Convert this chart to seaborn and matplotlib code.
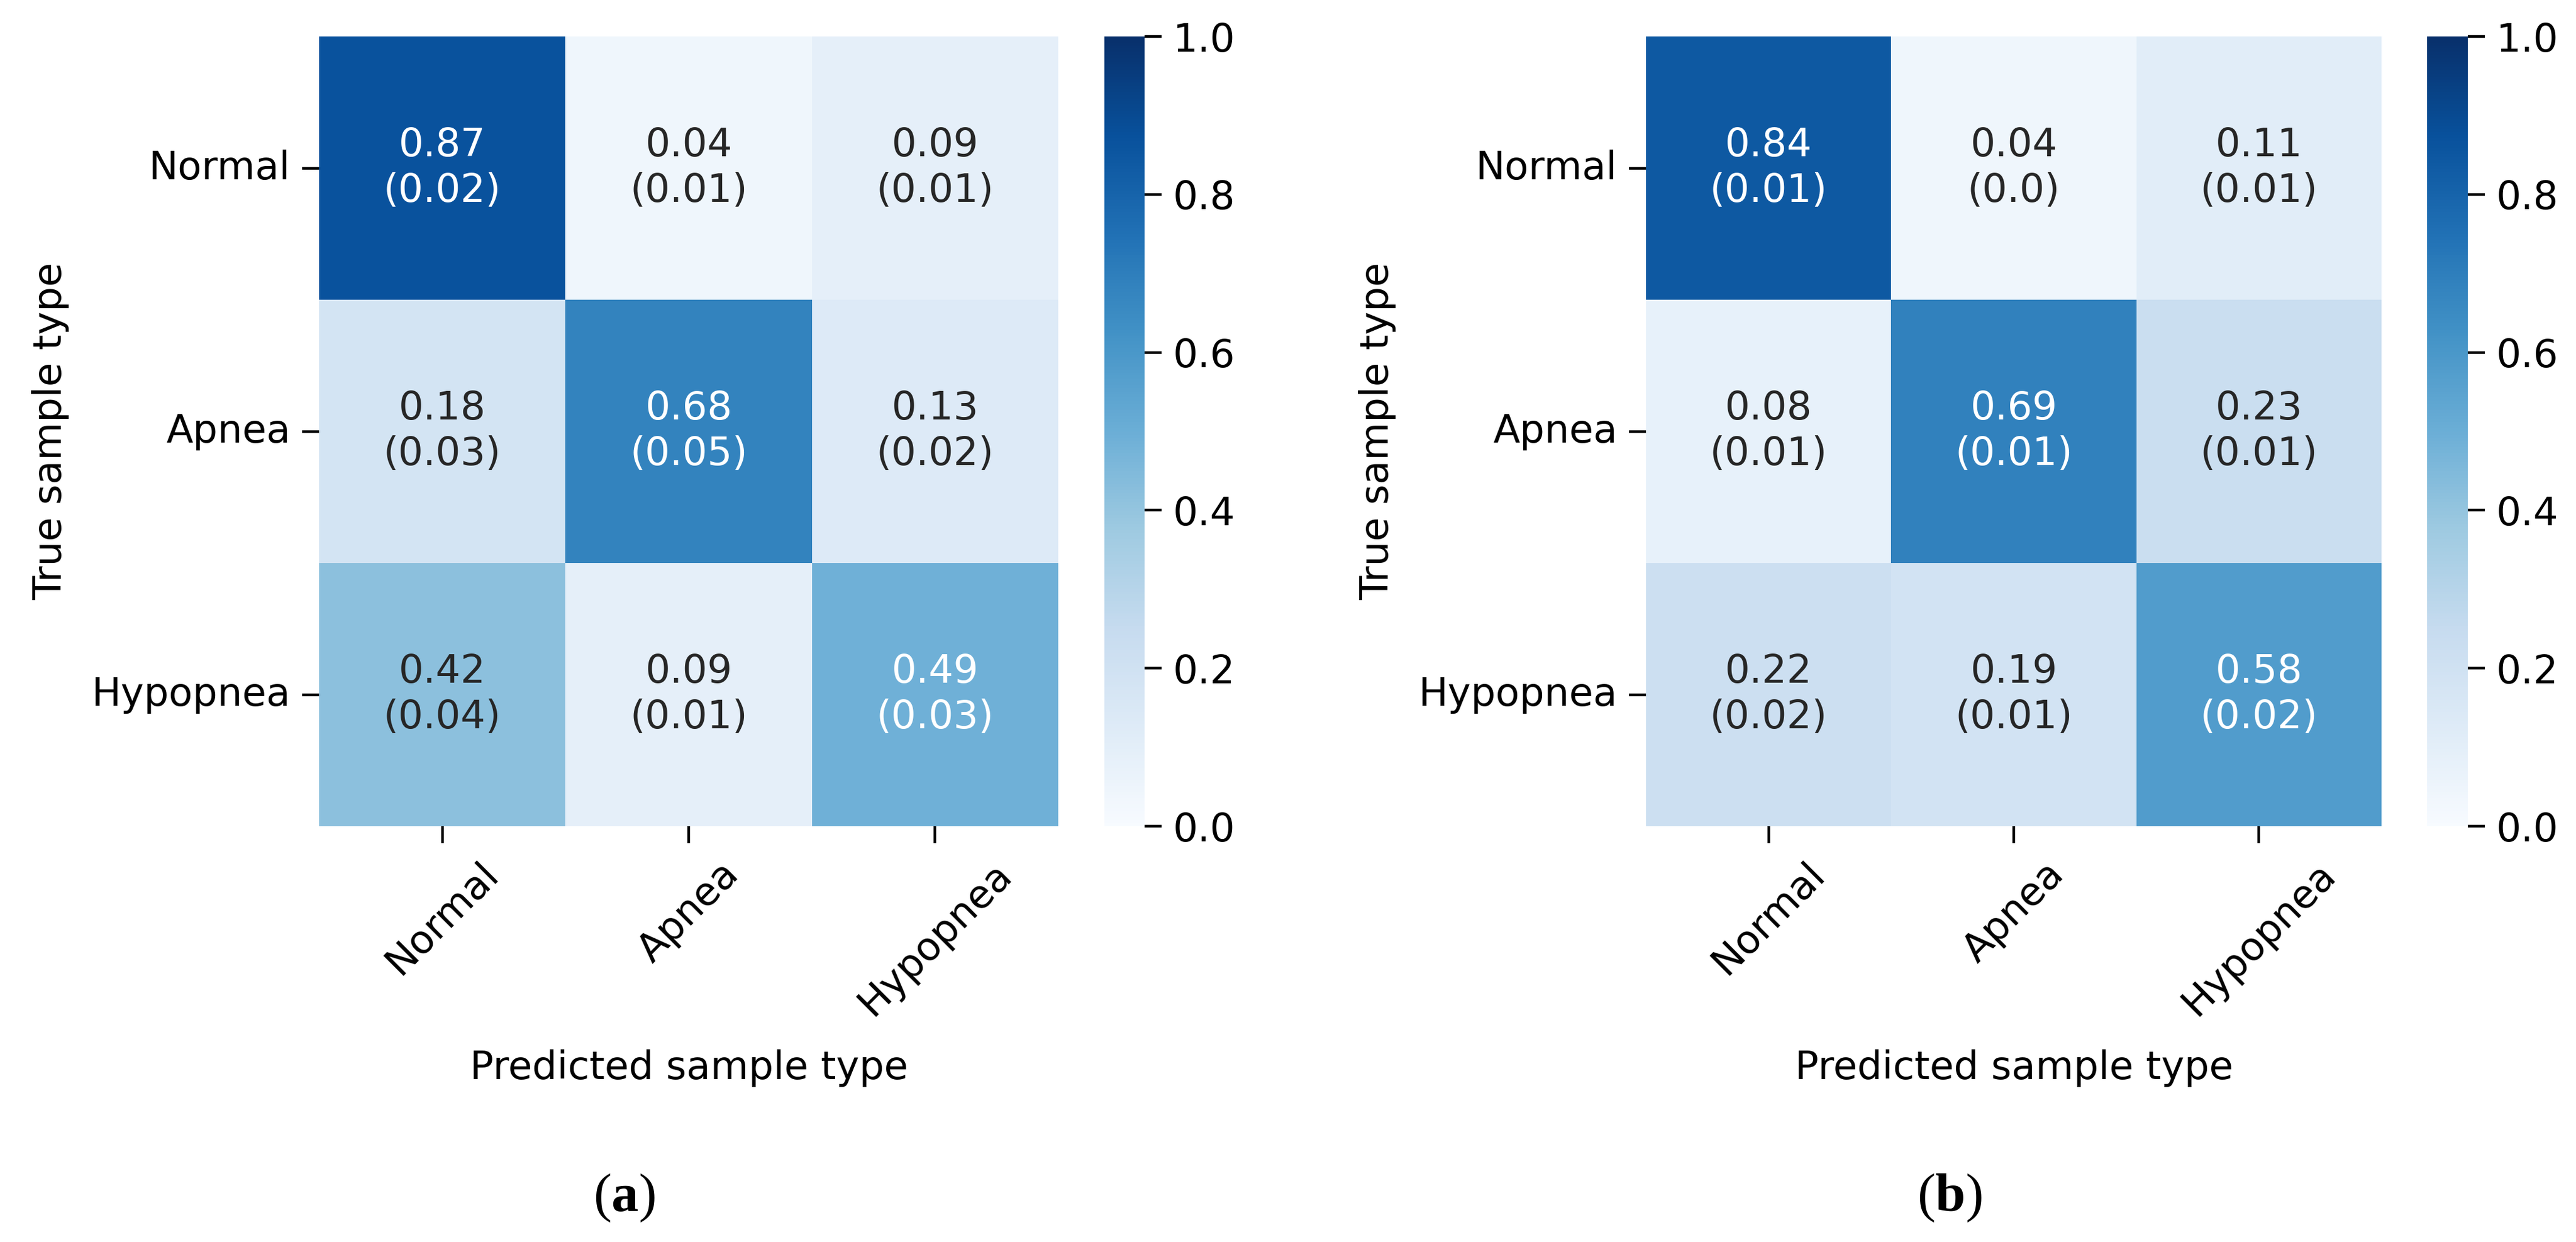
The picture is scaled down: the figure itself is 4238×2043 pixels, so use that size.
import numpy as np
import seaborn as sns
import matplotlib.pyplot as plt


CLASSES = ['Normal', 'Apnea', 'Hypopnea']

MEAN_A = [[0.87, 0.04, 0.09],
          [0.18, 0.68, 0.13],
          [0.42, 0.09, 0.49]]
STD_A = [['0.02', '0.01', '0.01'],
         ['0.03', '0.05', '0.02'],
         ['0.04', '0.01', '0.03']]

MEAN_B = [[0.84, 0.04, 0.11],
          [0.08, 0.69, 0.23],
          [0.22, 0.19, 0.58]]
STD_B = [['0.01', '0.0', '0.01'],
         ['0.01', '0.01', '0.01'],
         ['0.02', '0.01', '0.02']]

CBAR_TICKS = [0.0, 0.2, 0.4, 0.6, 0.8, 1.0]

FONT_SIZE = 11.6


def make_labels(mean, std):
    return np.array([['{:.2f}\n({})'.format(m, s) for m, s in zip(mr, sr)]
                     for mr, sr in zip(mean, std)])


def draw_confusion(fig, mean, std, ax_rect, cbar_rect):
    ax = fig.add_axes(ax_rect)
    cax = fig.add_axes(cbar_rect)
    sns.heatmap(np.array(mean), annot=make_labels(mean, std), fmt='',
                cmap='Blues', vmin=0, vmax=1, ax=ax, cbar_ax=cax,
                xticklabels=CLASSES, yticklabels=CLASSES,
                annot_kws={'fontsize': FONT_SIZE, 'linespacing': 1.25})
    ax.set_xlabel('Predicted sample type', fontsize=FONT_SIZE, labelpad=8)
    ax.set_ylabel('True sample type', fontsize=FONT_SIZE, labelpad=6.5)
    ax.tick_params(labelsize=FONT_SIZE, length=5, width=0.8)
    plt.setp(ax.get_xticklabels(), rotation=45, ha='center')
    plt.setp(ax.get_yticklabels(), rotation=0)
    cax.set_yticks(CBAR_TICKS)
    cax.tick_params(labelsize=FONT_SIZE, length=5, width=0.8)
    return ax


def main():
    plt.rcParams['mathtext.fontset'] = 'custom'
    plt.rcParams['mathtext.rm'] = 'Liberation Serif'
    plt.rcParams['mathtext.bf'] = 'Liberation Serif:bold'

    fig = plt.figure(figsize=(4238 / 400, 2043 / 400), dpi=400)

    draw_confusion(fig, MEAN_A, STD_A,
                   [0.1239, 0.3348, 0.2869, 0.6358],
                   [0.4287, 0.3348, 0.0156, 0.6358])
    draw_confusion(fig, MEAN_B, STD_B,
                   [0.6390, 0.3348, 0.2855, 0.6358],
                   [0.9422, 0.3348, 0.0158, 0.6358])

    fig.text(0.2423, 0.0362, r'$(\mathbf{a})$', ha='center', va='center',
             fontsize=16)
    fig.text(0.7567, 0.0362, r'$(\mathbf{b})$', ha='center', va='center',
             fontsize=16)

    fig.savefig('out.png', dpi=400)


if __name__ == '__main__':
    main()
